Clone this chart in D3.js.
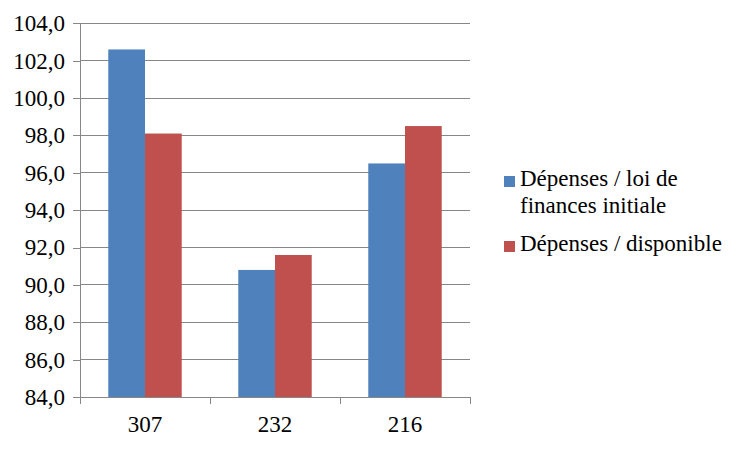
<!DOCTYPE html>
<html><head><meta charset="utf-8">
<script src="https://cdn.jsdelivr.net/npm/d3@7"></script>
</head><body style="margin:0">
<svg id="c" width="750" height="450"></svg>
<script>
const categories = ["307", "232", "216"];
const seriesNames = ["Dépenses / loi de finances initiale", "Dépenses / disponible"];
const loiFinances = [102.6, 90.8, 96.5];
const disponible = [98.1, 91.6, 98.5];
const yTicks = [84, 86, 88, 90, 92, 94, 96, 98, 100, 102, 104];
const colors = ["#4F81BD", "#C0504D"];

const svg = d3.select("#c");
const FONT = '"Liberation Serif", "Times New Roman", Georgia';
const fs = 23;
const m = {l: 80, r: 470, t: 23.3, b: 397};

const x = d3.scaleBand().domain(categories).range([m.l, m.r]).paddingInner(0).paddingOuter(0);
const inner = d3.scaleBand().domain([0, 1]).range([0, x.bandwidth()]).paddingOuter(0.77).paddingInner(0);
const y = d3.scaleLinear().domain([84, 104]).range([m.b, m.t]);

function serif(sel) {
  sel.style("font-family", FONT, "important").attr("font-size", fs);
}

// gridlines
svg.append("g").selectAll("line").data(yTicks.filter(d => d > 84)).join("line")
  .attr("x1", m.l).attr("x2", m.r).attr("y1", d => y(d)).attr("y2", d => y(d))
  .attr("stroke", "#878787").attr("stroke-width", 1).attr("shape-rendering", "crispEdges");

const series = [loiFinances, disponible];
series.forEach((vals, si) => {
  svg.append("g").selectAll("rect").data(categories).join("rect")
    .attr("x", (c) => x(c) + inner(si))
    .attr("width", inner.bandwidth())
    .attr("y", (c, i) => y(vals[i]))
    .attr("height", (c, i) => y(84) - y(vals[i]))
    .attr("fill", colors[si]);
});

// y axis
const yAxis = svg.append("g").attr("transform", `translate(${m.l},0)`)
  .call(d3.axisLeft(y).tickValues(yTicks).tickSize(7).tickPadding(8)
    .tickFormat(d => d3.format(".1f")(d).replace(".", ",")));
// x axis
const xAxis = svg.append("g").attr("transform", `translate(0,${m.b})`)
  .call(d3.axisBottom(x).tickSize(0).tickPadding(19));
// x tick marks at band boundaries
svg.append("g").selectAll("line").data(d3.range(categories.length + 1)).join("line")
  .attr("x1", i => m.l + i * x.step()).attr("x2", i => m.l + i * x.step())
  .attr("y1", m.b).attr("y2", m.b + 7).attr("stroke", "#878787").attr("shape-rendering", "crispEdges");

[yAxis, xAxis].forEach(g => {
  g.attr("font-family", null).attr("font-size", null);
  g.selectAll(".domain").attr("stroke", "#878787").attr("shape-rendering", "crispEdges");
  g.selectAll(".tick line").attr("stroke", "#878787").attr("shape-rendering", "crispEdges");
  g.selectAll("text").call(serif).attr("fill", "#000");
});
xAxis.selectAll(".tick text").attr("dy", "0.71em");

// legend
const leg = svg.append("g");
const legendItems = [
  {lines: ["Dépenses / loi de", "finances initiale"], y: 186, color: colors[0]},
  {lines: ["Dépenses / disponible"], y: 251, color: colors[1]}
];
legendItems.forEach((it, i) => {
  leg.append("rect").attr("x", 504).attr("y", it.y - 10).attr("width", 11).attr("height", 11).attr("fill", it.color);
  const t = leg.append("text").attr("x", 520).attr("y", it.y).attr("fill", "#000").call(serif);
  it.lines.forEach((ln, j) => t.append("tspan").attr("x", 520).attr("dy", j === 0 ? 0 : 27).text(ln).call(serif));
});
</script>
</body></html>
